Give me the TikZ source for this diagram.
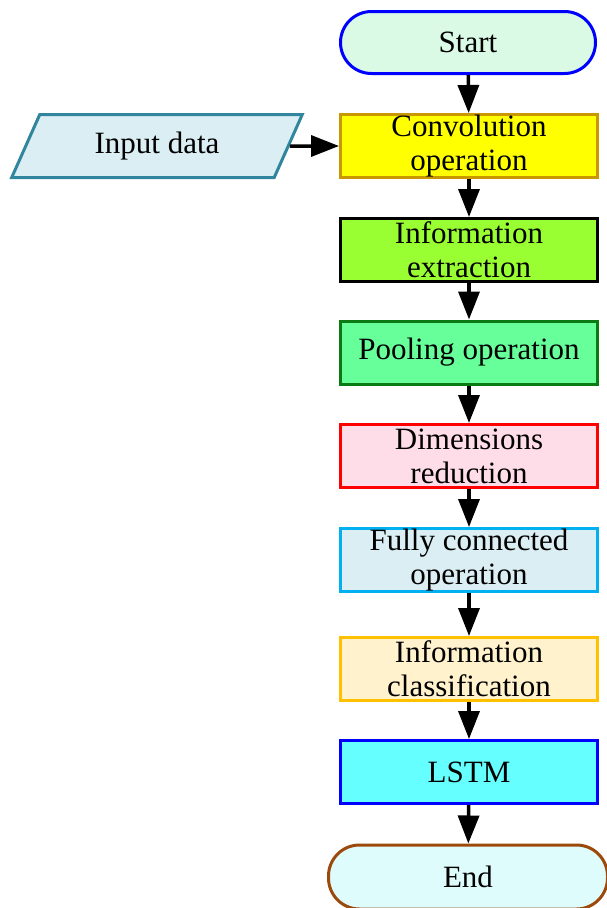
\documentclass[tikz,border=0pt]{standalone}
\usepackage{fontspec}
\setmainfont{Liberation Serif}
\usetikzlibrary{arrows.meta,shapes.geometric}
\definecolor{startfill}{HTML}{DAFAE6}
\definecolor{convfill}{HTML}{FFFF00}
\definecolor{convline}{HTML}{C99700}
\definecolor{extrfill}{HTML}{99FF33}
\definecolor{poolfill}{HTML}{66FF99}
\definecolor{poolline}{HTML}{0A7A12}
\definecolor{dimfill}{HTML}{FFDDE8}
\definecolor{fcfill}{HTML}{DAEEF3}
\definecolor{fcline}{HTML}{00B0F0}
\definecolor{clsfill}{HTML}{FFF2CC}
\definecolor{clsline}{HTML}{FFC000}
\definecolor{lstmfill}{HTML}{66FFFF}
\definecolor{endfill}{HTML}{DFFCFC}
\definecolor{endline}{HTML}{9C4A0C}
\definecolor{infill}{HTML}{DAEEF3}
\definecolor{inline}{HTML}{31859C}
\tikzset{
  every node/.style={font=\fontsize{31}{34}\selectfont, align=center},
  procbox/.style={draw, rectangle, line width=3pt, minimum width=257pt, minimum height=63pt, inner sep=0pt},
  termbox/.style={draw, rectangle, rounded corners=31pt, line width=3pt, minimum height=62pt, inner sep=0pt},
  flow/.style={line width=3.5pt, -{Triangle[width=21pt,length=28pt]}}
}
\begin{document}
\begin{tikzpicture}[x=1pt,y=-1pt]
\useasboundingbox (0,0) rectangle (607,908);
\node[termbox, draw=blue, fill=startfill, minimum width=255pt] (start) at (468,42.5) {Start};
\node[procbox, draw=convline, fill=convfill] (conv) at (469,146) {Convolution\\operation};
\node[procbox, draw=black, fill=extrfill] (extr) at (469,250) {Information\\extraction};
\node[procbox, draw=poolline, fill=poolfill] (pool) at (469,352.5) {Pooling operation};
\node[procbox, draw=red, fill=dimfill] (dim) at (469,456) {Dimensions\\reduction};
\node[procbox, draw=fcline, fill=fcfill] (fc) at (469,560) {Fully connected\\operation};
\node[procbox, draw=clsline, fill=clsfill] (cls) at (469,669) {Information\\classification};
\node[procbox, draw=blue, fill=lstmfill] (lstm) at (469,772) {LSTM};
\node[termbox, draw=endline, fill=endfill, minimum width=279pt, minimum height=64pt] (end) at (468,877) {End};
\node[trapezium, trapezium left angle=62, trapezium right angle=118, trapezium stretches=true,
      draw=inline, fill=infill, line width=3pt, minimum width=291pt, minimum height=63pt, inner sep=0pt]
      (input) at (157,146) {Input data};
\draw[flow] (start) -- (conv);
\draw[flow] (conv) -- (extr);
\draw[flow] (extr) -- (pool);
\draw[flow] (pool) -- (dim);
\draw[flow] (dim) -- (fc);
\draw[flow] (fc) -- (cls);
\draw[flow] (cls) -- (lstm);
\draw[flow] (lstm) -- (end);
\draw[flow] (input.east) -- (conv.west);
\end{tikzpicture}
\end{document}
